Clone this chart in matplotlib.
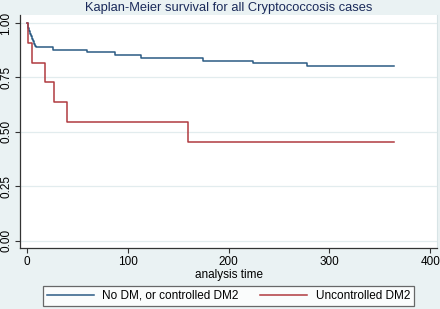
import matplotlib
matplotlib.use("Agg")
import matplotlib.pyplot as plt

plt.rcParams['font.family'] = ['Liberation Sans', 'DejaVu Sans']

# Kaplan-Meier step data
time_ctrl = [0, 1, 2, 3, 4, 5, 6, 7, 8, 9, 26, 60, 87, 113, 175, 224, 278, 364]
surv_ctrl = [1.0, 0.976, 0.964, 0.952, 0.940, 0.928, 0.916, 0.904, 0.895, 0.888,
             0.875, 0.865, 0.853, 0.839, 0.827, 0.818, 0.802, 0.802]

time_unctrl = [0, 1, 5, 18, 27, 40, 160, 364]
surv_unctrl = [1.0, 0.909, 0.818, 0.727, 0.636, 0.545, 0.455, 0.455]

x_ticks = [0, 100, 200, 300, 400]
y_ticks = [0.0, 0.25, 0.5, 0.75, 1.0]
y_labels = ["0.00", "0.25", "0.50", "0.75", "1.00"]

bg = '#eaf2f3'
navy = '#2b5b84'
maroon = '#b03a40'

fig = plt.figure(figsize=(4.4, 3.09), dpi=100, facecolor=bg)
ax = fig.add_axes([20 / 440, 1 - 248 / 309, 417 / 440, 233 / 309])
ax.set_facecolor('white')

l1, = ax.step(time_ctrl, surv_ctrl, where='post', color=navy, lw=1.1,
              label='No DM, or controlled DM2')
l2, = ax.step(time_unctrl, surv_unctrl, where='post', color=maroon, lw=1.1,
              label='Uncontrolled DM2')

ax.set_xlim(-6.9, 406.7)
ax.set_ylim(-0.0335, 1.037)
ax.set_xticks(x_ticks)
ax.set_yticks(y_ticks)
ax.set_yticklabels(y_labels, rotation=90, va='center')
ax.tick_params(axis='both', labelsize=8.5, length=3.5, width=0.8,
               color='#333333', pad=2)

for v in y_ticks:
    ax.axhline(v, color='#e2ecee', lw=0.9, zorder=0)

ax.spines['top'].set_visible(False)
ax.spines['right'].set_color('#d8e4e6')
ax.spines['left'].set_color('#333333')
ax.spines['bottom'].set_color('#333333')
ax.spines['left'].set_linewidth(0.9)
ax.spines['bottom'].set_linewidth(0.9)

ax.set_xlabel('analysis time', fontsize=8.5, labelpad=1)

fig.text(228.5 / 440, 1 - 8 / 309, 'Kaplan-Meier survival for all Cryptococcosis cases',
         ha='center', va='center', fontsize=9.3, color='#1a2a5a')

leg = fig.legend(handles=[l1, l2], loc='center', ncol=2,
                 bbox_to_anchor=(228.5 / 440, 1 - 296 / 309),
                 fontsize=8.5, frameon=True, fancybox=False,
                 handlelength=4, handletextpad=0.7, columnspacing=1.8,
                 borderpad=0.35)
leg.get_frame().set_edgecolor('#444444')
leg.get_frame().set_linewidth(0.9)
leg.get_frame().set_facecolor('white')

fig.savefig('out.png', dpi=100, facecolor=bg)
